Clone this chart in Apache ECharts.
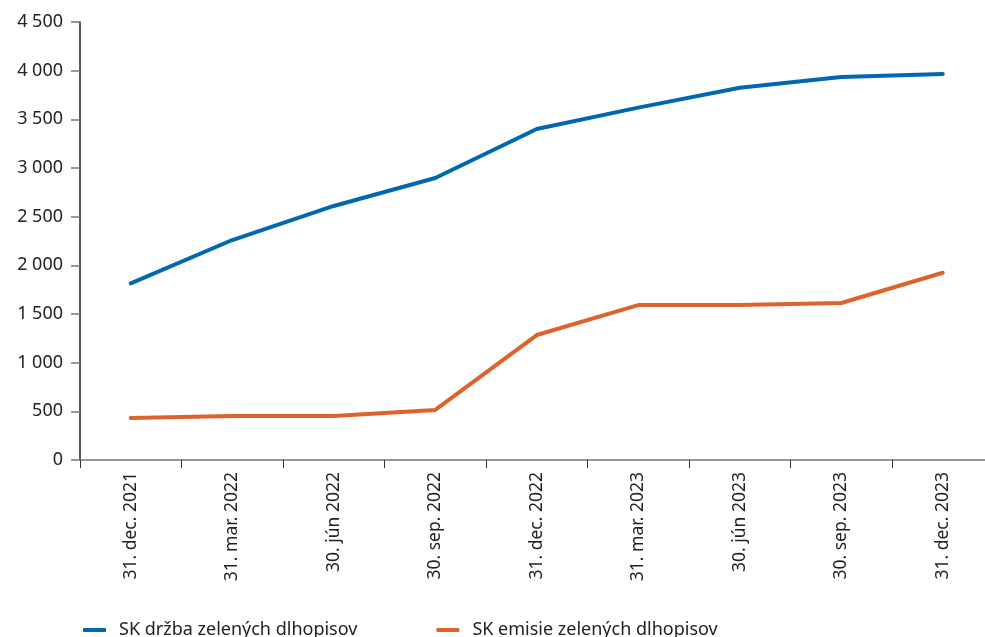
<!DOCTYPE html>
<html>
<head>
<meta charset="utf-8">
<script src="https://cdn.jsdelivr.net/npm/echarts@6/dist/echarts.min.js"></script>
<style>
  html, body { margin: 0; padding: 0; background: #fff; }
  #chart { width: 985px; height: 637px; }
</style>
</head>
<body>
<div id="chart"></div>
<script>
const categories = [
  "31. dec. 2021", "31. mar. 2022", "30. jún 2022", "30. sep. 2022",
  "31. dec. 2022", "31. mar. 2023", "30. jún 2023", "30. sep. 2023", "31. dec. 2023"
];
const holdings = [1815, 2260, 2610, 2897, 3400, 3620, 3825, 3935, 3966];
const issuance = [431, 452, 452, 514, 1284, 1592, 1592, 1613, 1924];
const seriesNames = ["SK držba zelených dlhopisov", "SK emisie zelených dlhopisov"];

const blue = "#0068ae";
const orange = "#de632b";
const font = "Noto Sans";

const chart = echarts.init(document.getElementById("chart"));

function fmt(v) {
  return String(v).replace(/\B(?=(\d{3})+(?!\d))/g, " ");
}

chart.setOption({
  animation: false,
  textStyle: { fontFamily: font },
  grid: {
    left: 80, top: 22, width: 913.5, height: 438,
    containLabel: false, outerBoundsMode: "none",
  },
  legend: {
    left: 78,
    top: 616,
    itemGap: 79,
    itemWidth: 23,
    itemHeight: 4,
    icon: "roundRect",
    formatter: (name) => "{t|" + name + "}",
    textStyle: {
      fontSize: 18, color: "#222", fontFamily: font,
      rich: { t: { fontSize: 18, color: "#222", fontFamily: font, padding: [0, 0, 0, 8] } },
    },
    data: seriesNames,
  },
  xAxis: {
    type: "category",
    data: categories,
    boundaryGap: true,
    axisLine: { lineStyle: { color: "#777", width: 1.5 } },
    axisTick: { show: true, length: 8, lineStyle: { color: "#333" } },
    axisLabel: {
      rotate: 90,
      margin: 12,
      fontSize: 17.5,
      color: "#222",
      fontFamily: font,
    },
    splitLine: { show: false },
  },
  yAxis: {
    type: "value",
    min: 0,
    max: 4500,
    interval: 500,
    axisLine: { show: true, lineStyle: { color: "#222", width: 1.5 } },
    axisTick: { show: true, length: 9, lineStyle: { color: "#777", width: 1.5 } },
    axisLabel: {
      margin: 17,
      fontSize: 18,
      color: "#222",
      fontFamily: font,
      formatter: fmt,
    },
    splitLine: { show: false },
  },
  series: [
    {
      name: seriesNames[0],
      type: "line",
      data: holdings,
      symbol: "none",
      lineStyle: { color: blue, width: 4, cap: "round", join: "round" },
      itemStyle: { color: blue },
    },
    {
      name: seriesNames[1],
      type: "line",
      data: issuance,
      symbol: "none",
      lineStyle: { color: orange, width: 4, cap: "round", join: "round" },
      itemStyle: { color: orange },
    },
  ],
});
</script>
</body>
</html>
